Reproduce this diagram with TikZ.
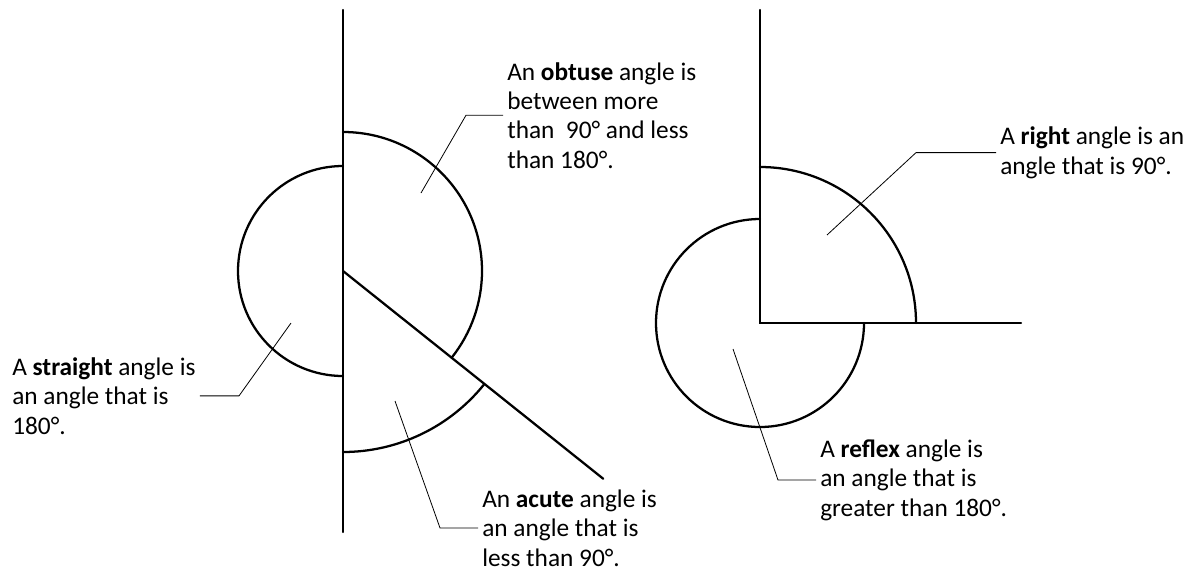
\documentclass[tikz,border=0pt]{standalone}
\usepackage{fontspec}
\setmainfont{Carlito}
\usepackage{tikz}
\usetikzlibrary{calc}

\begin{document}
\begin{tikzpicture}[x=0.75pt,y=0.75pt,
    font=\fontsize{19}{22}\selectfont,
    leg/.style={line width=1.7pt,line cap=round},
    lead/.style={line width=0.6pt},
    lbl/.style={anchor=base west,align=left,inner sep=3pt}]
  \useasboundingbox (0,0) rectangle (1198,-575);

  % left figure: straight, obtuse and acute angles
  \coordinate (o1) at (343,-271);
  \draw[leg] (343,-10) -- (343,-532);
  \draw[leg] (o1) -- ++(-38.6:333) coordinate (d1);
  \draw[leg] (343,-166) arc[start angle=90,end angle=270,radius=105];
  \draw[leg] (343,-132) arc[start angle=90,end angle=-38.6,radius=139];
  \draw[leg] (343,-452) arc[start angle=270,end angle=321.4,radius=181];

  % right figure: right and reflex angles
  \coordinate (o2) at (760,-323);
  \draw[leg] (760,-10) -- (o2) -- (1021,-323);
  \draw[leg] (760,-167) arc[start angle=90,end angle=0,radius=156];
  \draw[leg] (760,-219) arc[start angle=90,end angle=360,radius=104];

  % labels (base = last line)
  \node[lbl] (obtuse) at (503,-168)
    {An \textbf{obtuse} angle is\\between more\\than\ \ 90° and less\\than 180°.};
  \node[lbl] (straight) at (8,-434)
    {A \textbf{straight} angle is\\an angle that is\\180°.};
  \node[lbl] (acute) at (478,-566)
    {An \textbf{acute} angle is\\an angle that is\\less than 90°.};
  \node[lbl] (right) at (996,-174)
    {A \textbf{right} angle is an\\angle that is 90°.};
  \node[lbl] (reflex) at (816,-516)
    {A \textbf{reflex} angle is\\an angle that is\\greater than 180°.};

  % leaders
  \coordinate (ob-p) at (421,-193);  \coordinate (ob-k) at (466,0);
  \coordinate (st-p) at (291,-323);  \coordinate (st-k) at (239,0);
  \coordinate (ac-p) at (395,-401);  \coordinate (ac-k) at (440,0);
  \coordinate (ri-p) at (827,-235);  \coordinate (ri-k) at (916,0);
  \coordinate (re-p) at (733,-349);  \coordinate (re-k) at (778,0);
  \draw[lead] (ob-p) -- (ob-k |- obtuse.west) -- (obtuse.west);
  \draw[lead] (st-p) -- (st-k |- straight.east) -- (straight.east);
  \draw[lead] (ac-p) -- (ac-k |- acute.west) -- (acute.west);
  \draw[lead] (ri-p) -- (ri-k |- right.west) -- (right.west);
  \draw[lead] (re-p) -- (re-k |- reflex.west) -- (reflex.west);
\end{tikzpicture}
\end{document}
